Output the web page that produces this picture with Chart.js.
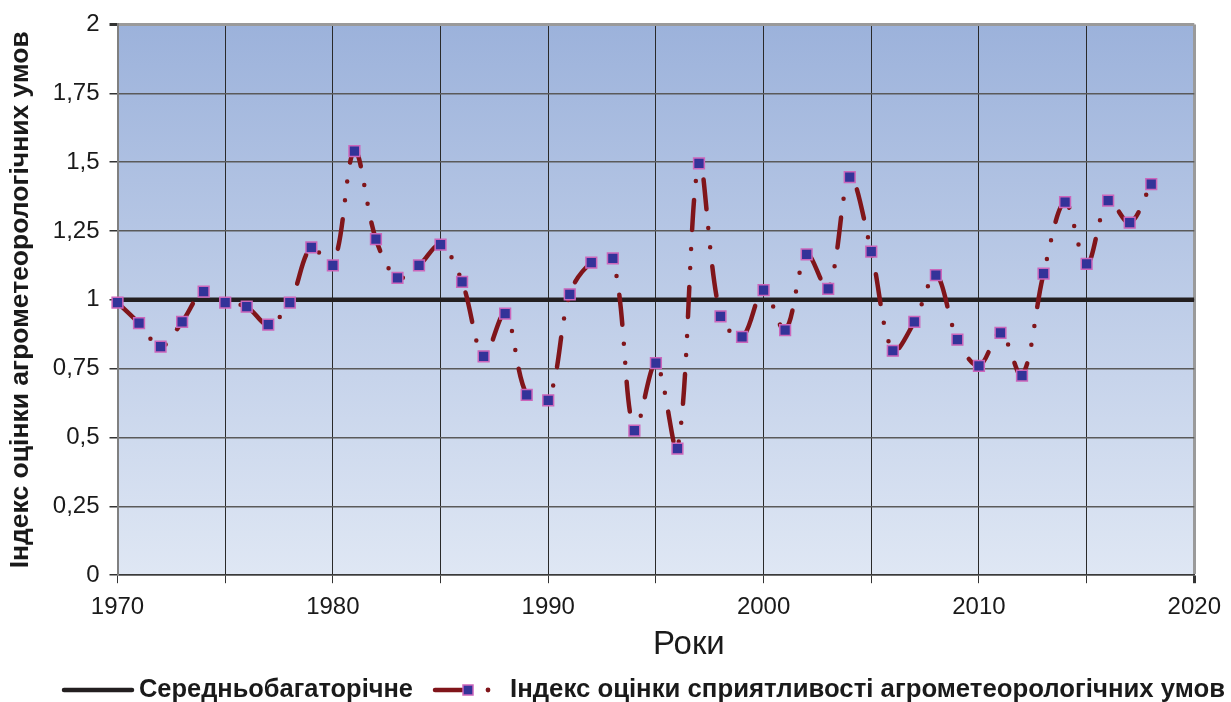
<!DOCTYPE html>
<html>
<head>
<meta charset="utf-8">
<script src="https://cdn.jsdelivr.net/npm/chart.js@4.4.0/dist/chart.umd.min.js"></script>
<style>
  html, body { margin: 0; padding: 0; background: #fff; }
</style>
</head>
<body>
<canvas id="myChart" width="1231" height="702"></canvas>
<script>
// data
const years = [1970, 1971, 1972, 1973, 1974, 1975, 1976, 1977, 1978, 1979,
               1980, 1981, 1982, 1983, 1984, 1985, 1986, 1987, 1988, 1989,
               1990, 1991, 1992, 1993, 1994, 1995, 1996, 1997, 1998, 1999,
               2000, 2001, 2002, 2003, 2004, 2005, 2006, 2007, 2008, 2009,
               2010, 2011, 2012, 2013, 2014, 2015, 2016, 2017, 2018];
const indexValues = [0.99, 0.915, 0.83, 0.92, 1.03, 0.99, 0.975, 0.91, 0.99, 1.19,
                     1.125, 1.54, 1.22, 1.08, 1.125, 1.2, 1.065, 0.795, 0.95, 0.655,
                     0.635, 1.02, 1.135, 1.15, 0.525, 0.77, 0.46, 1.495, 0.94, 0.865,
                     1.035, 0.89, 1.165, 1.04, 1.445, 1.175, 0.815, 0.92, 1.09, 0.855,
                     0.76, 0.88, 0.725, 1.095, 1.355, 1.13, 1.36, 1.28, 1.42];
const averageYears = [1970, 2020];
const averageValues = [1, 1];
const legendLabels = ['Середньобагаторічне', 'Індекс оцінки сприятливості агрометеорологічних умов'];
const xTitle = 'Роки';
const yTitle = 'Індекс оцінки агрометеорологічних умов';

const FONT = '"Liberation Sans", Arial, sans-serif';
const RED = '#80151a';

// gradient behind the plot
const plotBackground = {
  id: 'plotBackground',
  beforeDraw(chart) {
    const { ctx, chartArea: a } = chart;
    const g = ctx.createLinearGradient(0, a.top, 0, a.bottom);
    g.addColorStop(0, '#9cb2db');
    g.addColorStop(1, '#dfe7f4');
    ctx.save();
    ctx.fillStyle = g;
    ctx.fillRect(a.left, a.top, a.right - a.left, a.bottom - a.top);
    ctx.restore();
  }
};

// text squeezed/stretched to a given width, like the original
function fitText(ctx, text, x, y, width) {
  const k = width / ctx.measureText(text).width;
  ctx.save();
  ctx.translate(x, y);
  ctx.scale(k, 1);
  ctx.fillText(text, 0, 0);
  ctx.restore();
}

// x title (sits a bit right of centre in the original) and legend row
const bottomTexts = {
  id: 'bottomTexts',
  afterDraw(chart) {
    const ctx = chart.ctx;
    const a = chart.chartArea;
    ctx.save();
    ctx.fillStyle = '#1a1a1a';
    ctx.font = '33px ' + FONT;
    ctx.textAlign = 'center';
    ctx.textBaseline = 'middle';
    ctx.fillText(xTitle, (a.left + a.right) / 2 + 33, 645);

    const y = 690;
    ctx.textAlign = 'left';
    ctx.font = 'bold 25px ' + FONT;
    ctx.lineCap = 'round';

    ctx.strokeStyle = '#231f20';
    ctx.lineWidth = 4.5;
    ctx.beginPath(); ctx.moveTo(64, y); ctx.lineTo(132, y); ctx.stroke();
    fitText(ctx, legendLabels[0], 139, y, 274);

    ctx.strokeStyle = RED;
    ctx.beginPath(); ctx.moveTo(435, y); ctx.lineTo(462, y); ctx.stroke();
    ctx.fillStyle = '#333399';
    ctx.strokeStyle = '#cc66bb';
    ctx.lineWidth = 1.5;
    ctx.fillRect(463, y - 5, 10, 10);
    ctx.strokeRect(463, y - 5, 10, 10);
    ctx.fillStyle = RED;
    ctx.beginPath(); ctx.arc(488, y, 2.4, 0, Math.PI * 2); ctx.fill();
    ctx.fillStyle = '#1a1a1a';
    fitText(ctx, legendLabels[1], 510, y, 715);
    ctx.restore();
  }
};

new Chart(document.getElementById('myChart').getContext('2d'), {
  type: 'line',
  data: {
    datasets: [
      {
        label: legendLabels[1],
        data: years.map((yr, i) => ({ x: yr, y: indexValues[i] })),
        borderColor: RED,
        borderWidth: 4.5,
        borderDash: [30, 19, 0, 19, 0, 19],
        borderCapStyle: 'round',
        tension: 0.35,
        pointStyle: 'rect',
        pointRadius: 7.6,
        pointBackgroundColor: '#333399',
        pointBorderColor: '#cc66bb',
        pointBorderWidth: 1.5,
        clip: false
      },
      {
        label: legendLabels[0],
        data: averageYears.map((yr, i) => ({ x: yr, y: averageValues[i] })),
        borderColor: '#231f20',
        borderWidth: 4.5,
        pointRadius: 0,
        tension: 0
      }
    ]
  },
  options: {
    responsive: false,
    animation: false,
    layout: { padding: { top: 12, right: 4, left: 5, bottom: 70 } },
    plugins: {
      legend: { display: false },
      tooltip: { enabled: false }
    },
    scales: {
      x: {
        type: 'linear',
        min: 1970,
        max: 2020,
        ticks: {
          stepSize: 5,
          autoSkip: false,
          maxRotation: 0,
          padding: 10,
          color: '#1a1a1a',
          font: { size: 24, family: FONT },
          callback: v => (v % 10 === 0 ? String(v) : '')
        },
        grid: {
          color: ctx => (ctx.tick && ctx.tick.value === 2020 ? '#9a9a9a' : '#2a2a2a'),
          lineWidth: ctx => (ctx.tick && ctx.tick.value === 2020 ? 3 : 1),
          tickColor: '#333',
          tickLength: 8
        },
        border: { color: '#3a3a3a', width: 1.5 }
      },
      y: {
        min: 0,
        max: 2,
        ticks: {
          stepSize: 0.25,
          padding: 10,
          color: '#1a1a1a',
          font: { size: 24, family: FONT },
          callback: v => String(v).replace('.', ',')
        },
        grid: {
          color: ctx => (ctx.tick && ctx.tick.value === 2 ? '#9a9a9a' : '#5a5a5a'),
          lineWidth: ctx => (ctx.tick && ctx.tick.value === 2 ? 3 : 1.5),
          tickColor: '#333',
          tickLength: 8
        },
        border: { color: '#808080', width: 2 },
        title: {
          display: true,
          text: yTitle,
          color: '#1a1a1a',
          font: { size: 26.5, weight: 'bold', family: FONT },
          padding: { top: 0, bottom: 6 }
        }
      }
    }
  },
  plugins: [plotBackground, bottomTexts]
});
</script>
</body>
</html>
